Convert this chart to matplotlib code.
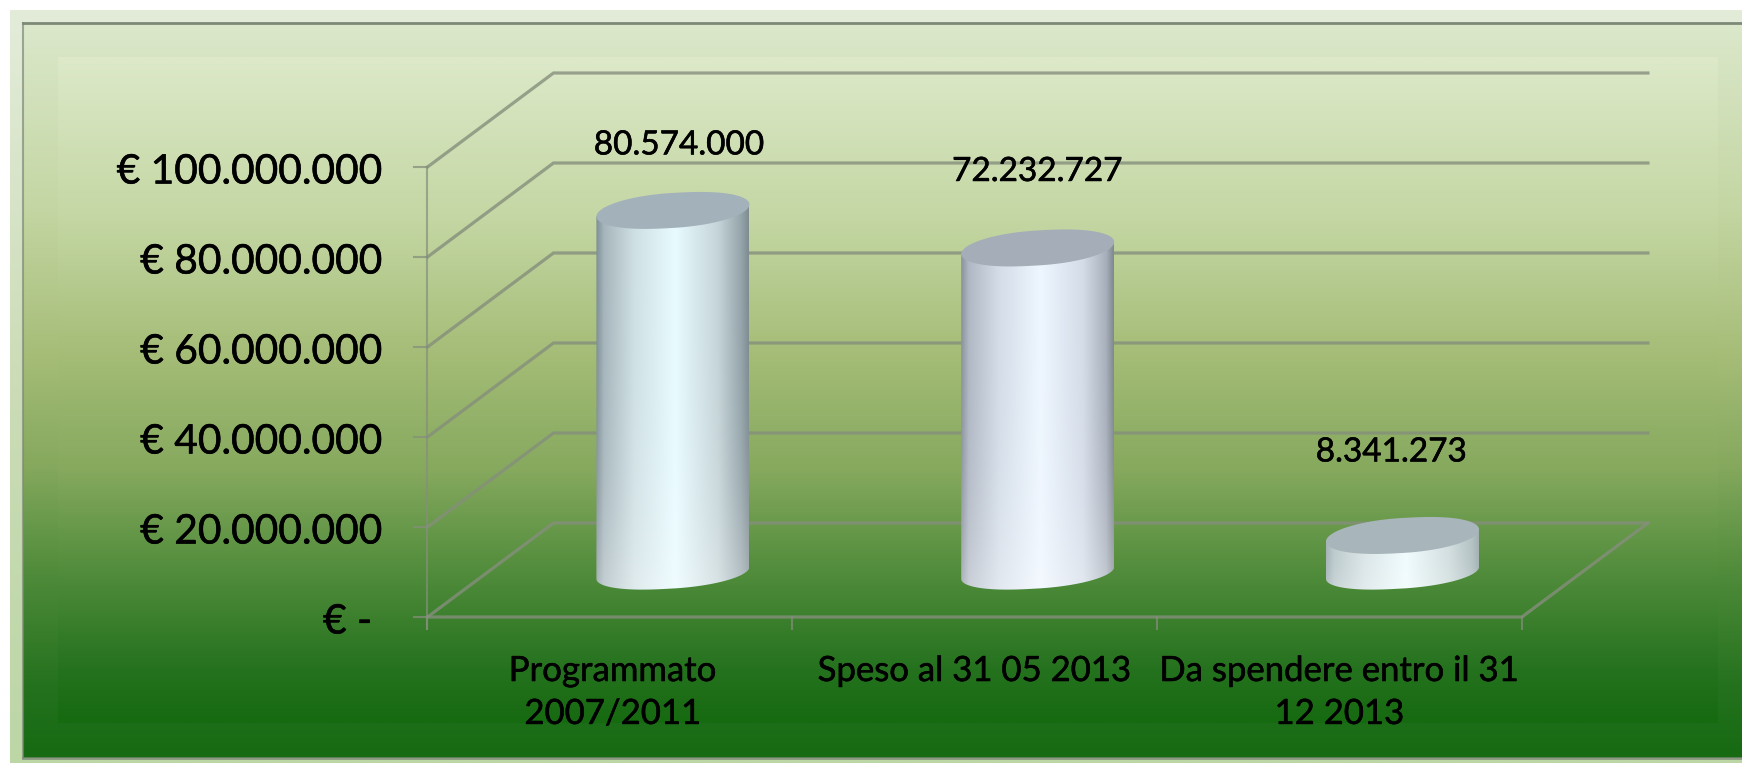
import numpy as np
import matplotlib
matplotlib.use("Agg")
import matplotlib.pyplot as plt
import matplotlib.patheffects as pe
from matplotlib.colors import to_rgb
from matplotlib.patches import PathPatch
from matplotlib.path import Path

# chart data
categories = ["Programmato\n2007/2011", "Speso al 31 05 2013", "Da spendere entro il 31\n12 2013"]
values = [80574000, 72232727, 8341273]
value_labels = ["80.574.000", "72.232.727", "8.341.273"]
y_ticks = [0, 20000000, 40000000, 60000000, 80000000, 100000000]
y_tick_labels = ["€ - ", "€ 20.000.000", "€ 40.000.000", "€ 60.000.000", "€ 80.000.000", "€ 100.000.000"]

W, H = 1742, 763
plt.rcParams["font.family"] = ["Lato", "DejaVu Sans"]
fig = plt.figure(figsize=(W / 100, H / 100), dpi=100, facecolor="white")
heavy = [pe.withStroke(linewidth=0.4, foreground="black")]


def vgrad(stops):
    # vertical gradient as an image, stops are (position, colour)
    pos = np.linspace(0, 1, 400)
    rgb = np.array([to_rgb(c) for _, c in stops])
    where = [p for p, _ in stops]
    return np.stack([np.interp(pos, where, rgb[:, k]) for k in range(3)], axis=1)[:, None, :]


# background panel, in pixels
bg = fig.add_axes([0, 0, 1, 1], zorder=0)
bg.set_xlim(0, W)
bg.set_ylim(H, 0)
bg.axis("off")
bg.imshow(vgrad([(0, "#e3ecd9"), (0.5, "#cbdcb6"), (1, "#bcd6a6")]), extent=(10, W, H, 10), aspect="auto")
outer = [(0, "#dbe8cb"), (0.25, "#c4d6a3"), (0.45, "#a6bd78"), (0.6, "#86a95e"), (0.75, "#4f8b3a"), (0.9, "#25721e"), (1, "#166a12")]
bg.imshow(vgrad(outer), extent=(23, W, 758, 23), aspect="auto")
inner = [(0, "#dde9c9"), (0.25, "#c3d6a2"), (0.45, "#a4bc76"), (0.62, "#86a95e"), (0.78, "#4f8b3a"), (0.92, "#25721e"), (1, "#166a10")]
bg.imshow(vgrad(inner), extent=(58, 1717, 723, 57), aspect="auto")
bg.plot([23, W], [23, 23], color="#7d8a78", lw=2)
bg.plot([23, 23], [23, 758], color="#7d8a78", lw=1.5, alpha=0.7)
bg.plot([23, W], [758, 758], color="#7d8a78", lw=2, alpha=0.8)
bg.set_xlim(0, W)
bg.set_ylim(H, 0)

# chart axes: x in categories, y in euros, filling the figure
ax = fig.add_axes([0, 0, 1, 1], zorder=1)
ax.patch.set_alpha(0)
ax.axis("off")
x_px = 364.8   # pixels per category
y_px = 4.5e-6  # pixels per euro
x0 = 427.5 + 0.5 * x_px
y0 = 617

# depth of the 3d box
dx = 126 / x_px
dy = 94 / y_px
grid = "#858f7c"
x_left, x_right = -0.5, 2.5

for t, lab in zip(y_ticks, y_tick_labels):
    ax.plot([x_left, x_left + dx, x_right + dx], [t, t + dy, t + dy], color=grid, lw=2.3, alpha=0.8,
            solid_joinstyle="miter", zorder=2)
    ax.plot([x_left - 13 / x_px, x_left], [t, t], color=grid, lw=1.5, alpha=0.75, zorder=2)
    ax.text(x_left - 45 / x_px, t - 1.5 / y_px, lab, ha="right", va="center_baseline", fontsize=29.3,
            color="black", zorder=5, path_effects=heavy)
ax.plot([x_left, x_left], [-12 / y_px, y_ticks[-1]], color=grid, lw=1.5, alpha=0.7, zorder=2)
ax.plot([x_left, x_right, x_right + dx], [0, 0, dy], color=grid, lw=2.3, alpha=0.8, zorder=2)
for k in range(4):
    ax.plot([x_left + k, x_left + k], [-12 / y_px, 0], color=grid, lw=1.5, alpha=0.7, zorder=2)

# cylinders
a = 76.5 / x_px
b_top = 17.5 / y_px
b_foot = 15.5 / y_px
s = 6 / y_px
foot = dy / 2 - 3 / y_px
side_x = [0, 0.05, 0.25, 0.52, 0.8, 0.95, 1]
body_stops = [
    ["#7f8f96", "#a5b5bb", "#cfe0e4", "#e8fbff", "#c5d4d8", "#95a5ab", "#7f8d92"],
    ["#8a929c", "#b0b8c4", "#d4dde8", "#eef6ff", "#d4dce8", "#a8b0bc", "#808890"],
    ["#a4b2b6", "#bccacc", "#dbe6e8", "#f0fcfe", "#d2dedf", "#b4c2c4", "#a0aeb0"],
]
tops = ["#a3b2ba", "#a5adb8", "#a8b6bb"]
th = np.linspace(0, np.pi, 80)


def round_cos(t):
    # a bit fuller than a true ellipse at the ends
    c = np.cos(t)
    return np.sign(c) * np.abs(c) ** 0.9


for i, v in enumerate(values):
    cx = i + dx / 2
    top = foot + v
    # front half of each rim, going left to right
    rim_x = cx - a * round_cos(th)
    rim_y = foot - b_foot * np.sin(th) - s * np.cos(th)
    verts = list(zip(rim_x, rim_y)) + [(cx + a, top + s), (cx, top), (cx - a, top - s)]
    clip = PathPatch(Path(verts + [verts[0]], closed=True), transform=ax.transData, fc="none", ec="none")
    ax.add_patch(clip)
    # side shading, lighter towards the foot
    u = np.linspace(0, 1, 200)
    rgb = np.array([to_rgb(c) for c in body_stops[i]])
    row = np.stack([np.interp(u, side_x, rgb[:, k]) for k in range(3)], axis=1)
    f = np.linspace(0, 1, 200)[:, None, None]
    img = row[None, :, :] * (1 - 0.4 * f ** 4) + 0.4 * f ** 4
    im = ax.imshow(img, extent=(cx - a, cx + a, foot - 2 * b_foot, top + 2 * b_top), aspect="auto", zorder=3,
                   interpolation="bilinear")
    im.set_clip_path(clip)
    # top face
    t2 = np.linspace(0, 2 * np.pi, 200)
    ax.fill(cx - a * round_cos(t2), top + b_top * np.sin(t2) - s * np.cos(t2), color=tops[i], lw=0, zorder=4)

# imshow resets the limits
ax.set_xlim((0 - x0) / x_px, (W - x0) / x_px)
ax.set_ylim((y0 - H) / y_px, y0 / y_px)

# labels above the cylinders
label_dx = [6, 0, -11]
label_dy = [65, 76, 83]
for i, v in enumerate(values):
    ax.text(i + dx / 2 + label_dx[i] / x_px, v + foot + label_dy[i] / y_px, value_labels[i], ha="center", va="center",
            fontsize=24, color="black", zorder=5, path_effects=heavy)

cat_dx = [3, 0, 0]
for i, c in enumerate(categories):
    ax.text(i + cat_dx[i] / x_px, -38 / y_px, c, ha="center", va="top", fontsize=25, color="black", linespacing=1.42,
            zorder=5, path_effects=heavy)

fig.savefig("out.png", dpi=100)
